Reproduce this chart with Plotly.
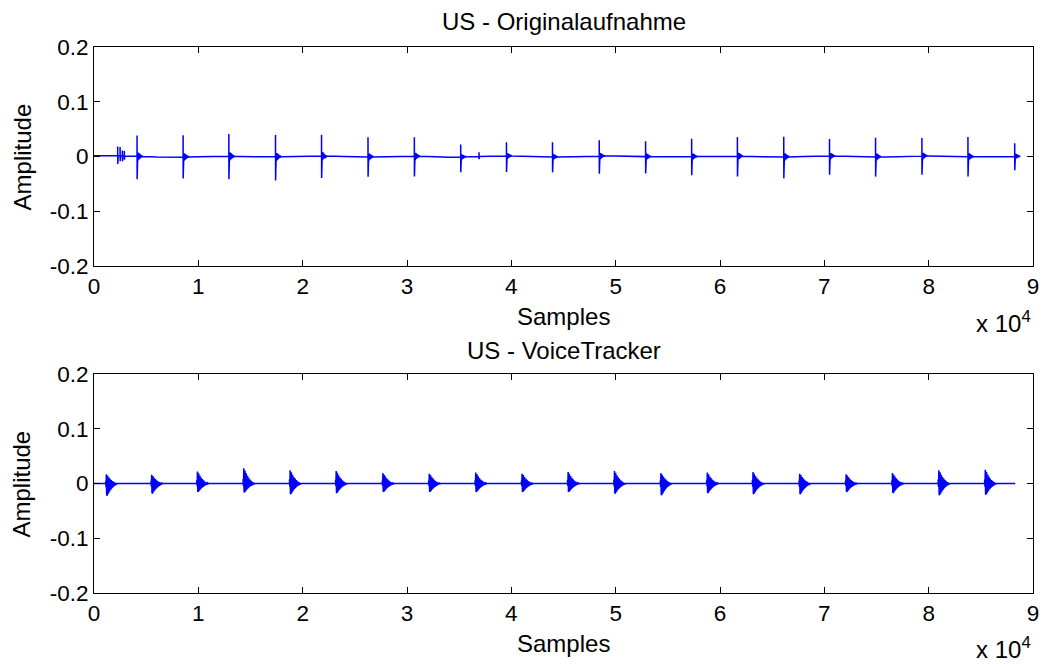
import numpy as np
import plotly.graph_objects as go

# ---------------- data ----------------
# Top panel: "US - Originalaufnahme" (sharp clicks)
top_len = 88700
top_spike_pos = [4126, 8540, 12924, 17396, 21810, 26262, 30704, 35147, 39532, 43945,
                 48426, 52869, 57283, 61668, 66110, 70495, 74909, 79352, 83765, 88246]
top_spike_up = [0.038, 0.040, 0.041, 0.040, 0.039, 0.036, 0.035, 0.023, 0.025, 0.027,
                0.029, 0.028, 0.033, 0.035, 0.037, 0.031, 0.035, 0.033, 0.036, 0.024]
top_spike_down = [0.042, 0.039, 0.042, 0.043, 0.040, 0.036, 0.037, 0.028, 0.029, 0.028,
                  0.032, 0.031, 0.034, 0.037, 0.039, 0.034, 0.036, 0.034, 0.036, 0.025]
# ringing after each click, relative to click height (50-sample steps)
top_ring_env = [0.22, 0.18, 0.15, 0.13, 0.11, 0.09, 0.07, 0.05, 0.04, 0.03]
# small extra events (position, up, down)
extra_pos = [2270, 2500, 2720, 2910, 36900]
extra_up = [0.017, 0.016, 0.010, 0.009, 0.008]
extra_down = [0.015, 0.010, 0.010, 0.007, 0.005]
# slow baseline drift every 2000 samples
top_drift = [0.0015, 0.0015, 0.0005, -0.0010, -0.0015, -0.0005, 0.0005, 0.0000, -0.0010, -0.0005,
             0.0005, 0.0010, 0.0000, -0.0010, -0.0005, 0.0005, 0.0000, -0.0015, -0.0005, 0.0005,
             0.0010, 0.0000, -0.0010, -0.0005, 0.0005, 0.0010, 0.0000, -0.0005, -0.0010, 0.0000,
             0.0010, 0.0005, -0.0005, -0.0010, 0.0000, 0.0010, 0.0005, -0.0005, -0.0010, 0.0000,
             0.0010, 0.0005, -0.0005, -0.0005, 0.0000]

# Bottom panel: "US - VoiceTracker" (decaying bursts)
bot_len = 88300
bot_burst_pos = [1123, 5469, 9854, 14297, 18739, 23153, 27634, 32077, 36529, 40971,
                 45385, 49827, 54279, 58722, 63106, 67578, 72030, 76472, 80915, 85367]
bot_burst_up = [0.017, 0.016, 0.022, 0.028, 0.024, 0.023, 0.019, 0.018, 0.020, 0.018,
                0.021, 0.023, 0.019, 0.020, 0.021, 0.018, 0.017, 0.019, 0.024, 0.025]
bot_burst_down = [0.022, 0.018, 0.015, 0.016, 0.019, 0.017, 0.015, 0.015, 0.015, 0.015,
                  0.015, 0.018, 0.021, 0.017, 0.019, 0.019, 0.015, 0.017, 0.021, 0.020]
# burst envelope, relative (60-sample steps)
bot_burst_env = [0.3, 1.0, 0.95, 0.85, 0.75, 0.66, 0.58, 0.50, 0.43, 0.37, 0.31, 0.26,
                 0.21, 0.17, 0.13, 0.10, 0.07, 0.05, 0.03]

x_tick_vals = [0, 10000, 20000, 30000, 40000, 50000, 60000, 70000, 80000, 90000]
x_tick_text = ["0", "1", "2", "3", "4", "5", "6", "7", "8", "9"]
y_tick_vals = [-0.2, -0.1, 0, 0.1, 0.2]
y_tick_text = ["-0.2", "-0.1", "0", "0.1", "0.2"]

# ---------------- build traces from the arrays ----------------
drift_x = np.arange(len(top_drift)) * 2000


def base(x):
    return float(np.interp(x, drift_x, top_drift))


pts = [(float(x), float(v)) for x, v in zip(drift_x, top_drift)]
pts.append((float(top_len), base(top_len)))
for p, u, d in zip(top_spike_pos, top_spike_up, top_spike_down):
    pts += [(p - 1, base(p)), (p, base(p) + u), (p + 8, base(p) - d)]
    for k, e in enumerate(top_ring_env):
        xx = p + 20 + 50 * k
        pts += [(xx, base(xx) + u * e), (xx + 25, base(xx) - d * e)]
    pts.append((p + 20 + 50 * len(top_ring_env), base(p + 520)))
for p, u, d in zip(extra_pos, extra_up, extra_down):
    pts += [(p - 1, base(p)), (p, base(p) + u), (p + 8, base(p) - d), (p + 40, base(p))]
pts.sort()
tx = [q[0] for q in pts]
ty = [q[1] for q in pts]

bpts = [(0.0, 0.0), (float(bot_len), 0.0)]
for p, u, d in zip(bot_burst_pos, bot_burst_up, bot_burst_down):
    bpts.append((p - 1, 0.0))
    for k, e in enumerate(bot_burst_env):
        xx = p + 60 * k
        bpts += [(xx, u * e), (xx + 30, -d * e)]
    bpts.append((p + 60 * len(bot_burst_env), 0.0))
bpts.sort()
bx = [q[0] for q in bpts]
by = [q[1] for q in bpts]

# ---------------- figure ----------------
FONT = "Liberation Sans, Arial, sans-serif"
fig = go.Figure()
fig.add_trace(go.Scatter(x=tx, y=ty, mode="lines", line=dict(color="#0000ff", width=1.5),
                         xaxis="x", yaxis="y", showlegend=False, hoverinfo="skip"))
fig.add_trace(go.Scatter(x=bx, y=by, mode="lines", line=dict(color="#0000ff", width=1.5),
                         xaxis="x2", yaxis="y2", showlegend=False, hoverinfo="skip"))

ax_common = dict(showline=True, linecolor="black", linewidth=1, mirror="ticks",
                 ticks="inside", ticklen=6, tickcolor="black", showgrid=False,
                 zeroline=False, automargin=False,
                 tickfont=dict(family=FONT, size=22.5, color="black"))
xcommon = dict(ax_common, range=[0, 90000], tickvals=x_tick_vals, ticktext=x_tick_text)
ycommon = dict(ax_common, range=[-0.2, 0.2], tickvals=y_tick_vals, ticktext=y_tick_text)

fig.update_layout(
    width=1043, height=664,
    margin=dict(l=94, r=10, t=47, b=71, autoexpand=False),
    paper_bgcolor="white", plot_bgcolor="white",
    xaxis=dict(xcommon, domain=[0, 1], anchor="y"),
    yaxis=dict(ycommon, domain=[0.5989, 1], anchor="x"),
    xaxis2=dict(xcommon, domain=[0, 1], anchor="y2"),
    yaxis2=dict(ycommon, domain=[0, 0.4011], anchor="x2"),
)

tf = dict(family=FONT, size=24, color="black")
ann = [
    dict(text="US - Originalaufnahme", x=0.5, y=1.0458),
    dict(text="US - VoiceTracker", x=0.5, y=0.445),
    dict(text="Samples", x=0.5, y=0.5055),
    dict(text="Samples", x=0.5, y=-0.0934),
    dict(text="x 10<sup>4</sup>", x=1.0, y=0.497, xanchor="right"),
    dict(text="x 10<sup>4</sup>", x=1.0, y=-0.1, xanchor="right"),
    dict(text="Amplitude", x=-0.0767, y=0.7995, textangle=-90),
    dict(text="Amplitude", x=-0.0767, y=0.2005, textangle=-90),
]
for a in ann:
    d = dict(xref="paper", yref="paper", showarrow=False, font=tf,
             xanchor="center", yanchor="middle")
    d.update(a)
    fig.add_annotation(**d)

fig.write_html("out.html", config={"displayModeBar": False},
               post_script="document.body.style.margin='0';document.body.style.padding='0';")
